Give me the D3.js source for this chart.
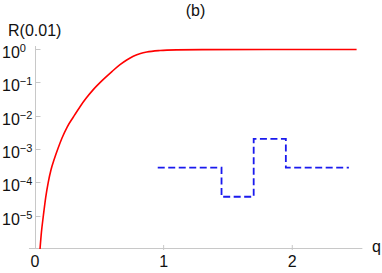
<!DOCTYPE html>
<html lang="en">
<head>
<meta charset="UTF-8">
<title>R(0.01) vs q</title>
<script src="https://d3js.org/d3.v7.min.js"></script>
<style>
  body { margin: 0; background: #fff; }
  svg text { font-family: "Liberation Sans", Arial, sans-serif; fill: #111; }
</style>
</head>
<body>
<script>
// red curve
const redQ = [0.039, 0.05, 0.065, 0.083, 0.103, 0.124, 0.15, 0.18, 0.21, 0.25, 0.298, 0.35, 0.397, 0.453, 0.521, 0.6, 0.661, 0.713, 0.764, 0.82, 0.869, 0.972, 1.1, 1.3, 1.8, 2.5];
const redR = [1e-6, 3.2e-6, 1e-5, 3.5e-5, 1e-4, 2.34e-4, 5e-4, 1.07e-3, 2.14e-3, 4.57e-3, 9.1e-3, 1.86e-2, 3.31e-2, 6.03e-2, 0.112, 0.214, 0.339, 0.468, 0.603, 0.733, 0.813, 0.902, 0.944, 0.96, 0.965, 0.966];

// blue dashed steps
const blueQ = [0.954, 1.45, 1.70, 1.95, 2.44];
const blueR = [2.75e-4, 3.7e-5, 2e-3, 2.75e-4, 2.75e-4];

const yTickExp = [0, -1, -2, -3, -4, -5];
const xTicks = [0, 1, 2];

const width = 382, height = 273;

const svg = d3.select("body").append("svg")
    .attr("width", width)
    .attr("height", height);

const x = d3.scaleLinear().domain([0, 2.5]).range([35, 356.6]);
const y = d3.scaleLog().domain([1e-6, 1]).range([249, 49]);

const axisColor = "#c8c8c8";

// axes lines
svg.append("line")
    .attr("x1", x(-0.047)).attr("x2", x(2.545))
    .attr("y1", 248.5).attr("y2", 248.5)
    .attr("stroke", axisColor).attr("stroke-width", 1);
svg.append("line")
    .attr("x1", 35.5).attr("x2", 35.5)
    .attr("y1", 46).attr("y2", 248.5)
    .attr("stroke", axisColor).attr("stroke-width", 1);

// y ticks + labels
const yt = svg.append("g").selectAll("g")
    .data(yTickExp)
    .enter().append("g")
    .attr("transform", d => `translate(0,${Math.round(y(Math.pow(10, d))) + 0.5})`);
yt.append("line")
    .attr("x1", 35.5).attr("x2", 40.5)
    .attr("stroke", axisColor);
const ylab = yt.append("text")
    .attr("x", 2)
    .attr("y", 8)
    .style("font-size", "16px");
ylab.append("tspan").text("10");
ylab.append("tspan")
    .attr("dy", -6)
    .style("font-size", "11px")
    .text(d => d === 0 ? "0" : "\u2212" + (-d));

// x ticks + labels
const xt = svg.append("g").selectAll("g")
    .data(xTicks)
    .enter().append("g")
    .attr("transform", d => `translate(${x(d)},0)`);
xt.filter(d => d > 0).append("line")
    .attr("y1", 245).attr("y2", 250)
    .attr("stroke", axisColor);
xt.append("text")
    .attr("y", 266.5)
    .attr("text-anchor", "middle")
    .style("font-size", "16px")
    .text(d => d);

// axis titles
svg.append("text")
    .attr("x", 372).attr("y", 251.5)
    .style("font-size", "16px")
    .text("q");
svg.append("text")
    .attr("x", 8).attr("y", 35.5)
    .style("font-size", "16px")
    .text("R(0.01)");
svg.append("text")
    .attr("x", 195.5).attr("y", 16)
    .attr("text-anchor", "middle")
    .style("font-size", "16px")
    .text("(b)");

// red curve
const redLine = d3.line()
    .x(d => x(d[0]))
    .y(d => y(d[1]))
    .curve(d3.curveMonotoneX);
svg.append("path")
    .datum(redQ.map((q, i) => [q, redR[i]]))
    .attr("d", redLine)
    .attr("fill", "none")
    .attr("stroke", "#ff0000")
    .attr("stroke-width", 1.6);

// blue dashed step
const blueLine = d3.line()
    .x(d => x(d[0]))
    .y(d => y(d[1]))
    .curve(d3.curveStepAfter);
svg.append("path")
    .datum(blueQ.map((q, i) => [q, blueR[i]]))
    .attr("d", blueLine)
    .attr("fill", "none")
    .attr("stroke", "#1a1aee")
    .attr("stroke-width", 1.8)
    .attr("stroke-dasharray", "7,3.5");
</script>
</body>
</html>
